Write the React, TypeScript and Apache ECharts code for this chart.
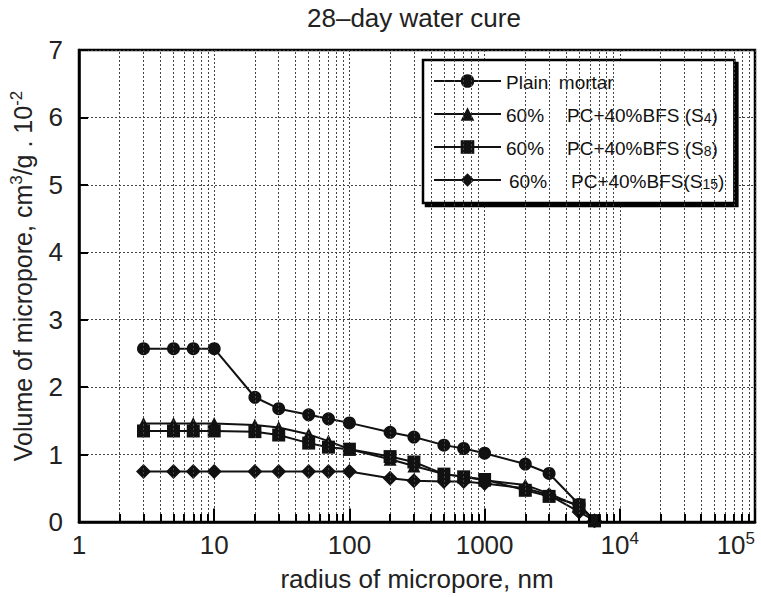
import React, { useEffect, useRef } from "react";
import * as echarts from "echarts";

// ---- data ----
const radius = [3, 5, 7, 10, 20, 30, 50, 70, 100, 200, 300, 500, 700, 1000, 2000, 3000, 5000, 6500];
const plainMortar = [2.57, 2.57, 2.57, 2.57, 1.85, 1.68, 1.59, 1.53, 1.47, 1.33, 1.26, 1.14, 1.09, 1.02, 0.86, 0.72, 0.26, 0.02];
const bfsS4 = [1.46, 1.46, 1.46, 1.46, 1.44, 1.4, 1.3, 1.2, 1.08, 0.93, 0.83, 0.71, 0.67, 0.62, 0.55, 0.42, 0.23, 0.02];
const bfsS8 = [1.35, 1.35, 1.35, 1.35, 1.34, 1.29, 1.17, 1.11, 1.08, 0.97, 0.89, 0.71, 0.67, 0.63, 0.47, 0.38, 0.25, 0.02];
const bfsS15 = [0.75, 0.75, 0.75, 0.75, 0.75, 0.75, 0.75, 0.75, 0.75, 0.65, 0.61, 0.6, 0.6, 0.57, 0.5, 0.4, 0.15, 0.02];

const seriesNames = ["Plain mortar", "S4", "S8", "S15"];
const legendLabels = [
  "{t|Plain  mortar}",
  "{p|60%}{t|PC+40%BFS (S}{sub|4}{t|)}",
  "{p|60%}{t|PC+40%BFS (S}{sub|8}{t|)}",
  "{q|60%}{t|PC+40%BFS(S}{sub|15}{t|)}",
];
const xTickLabels = ["1", "10", "100", "1000", "10{sup|4}", "10{sup|5}"];
const yMin = 0;
const yMax = 7;
const xMin = 1;
const xMax = 100000;
const decades = [1, 10, 100, 1000, 10000];
const multipliers = [2, 3, 4, 5, 6, 7, 8, 9];

const FONT = "'Liberation Sans', Arial, Helvetica, sans-serif";
const INK = "#111";

export default function App() {
  const ref = useRef<HTMLDivElement>(null);
  useEffect(() => {
    if (!ref.current) return;
    const chart = echarts.init(ref.current, undefined, { renderer: "svg" });

    const minorValues: number[] = [];
    decades.forEach((d) => multipliers.forEach((m) => minorValues.push(m * d)));
    const majorInner = decades.slice(1);

    const gridLineStyle = { type: [2, 2] as any, color: "#444", width: 1 };

    const markerTypes = ["circle", "triangle", "rect", "diamond"];
    const markerSizes = [13, 13, 13, 15];
    const values = [plainMortar, bfsS4, bfsS8, bfsS15];

    const dataSeries = values.map((vals, i) => ({
      name: seriesNames[i],
      type: "line",
      data: radius.map((r, j) => [r, vals[j]]),
      symbol: markerTypes[i],
      symbolSize: markerSizes[i],
      lineStyle: { color: INK, width: 2 },
      itemStyle: { color: INK },
      z: 3,
    }));

    const option: any = {
      animation: false,
      backgroundColor: "#fff",
      title: {
        text: "28–day water cure",
        left: 302,
        top: 0,
        textStyle: { fontFamily: FONT, fontSize: 26, fontWeight: "normal", color: "#222" },
      },
      legend: {
        data: seriesNames,
        orient: "vertical",
        left: 423,
        top: 60,
        itemWidth: 67,
        itemHeight: 17,
        itemGap: 14,
        padding: [13, 10, 12, 10],
        backgroundColor: "#fff",
        borderColor: "#000",
        borderWidth: 2.5,
        shadowColor: "#000",
        shadowBlur: 0,
        shadowOffsetX: 3,
        shadowOffsetY: 3,
        selectedMode: false,
        formatter: (name: string) => legendLabels[seriesNames.indexOf(name)],
        textStyle: {
          fontFamily: FONT,
          fontSize: 19,
          color: INK,
          rich: {
            t: { fontFamily: FONT, fontSize: 19, color: INK, lineHeight: 22, verticalAlign: "bottom" },
            p: { fontFamily: FONT, fontSize: 19, color: INK, lineHeight: 22, width: 61, verticalAlign: "bottom" },
            q: { fontFamily: FONT, fontSize: 19, color: INK, lineHeight: 22, width: 62, padding: [0, 0, 0, 3], verticalAlign: "bottom" },
            sub: { fontFamily: FONT, fontSize: 14, color: INK, lineHeight: 11, verticalAlign: "bottom" },
          },
        },
      },
      grid: {
        left: 79,
        right: 6,
        top: 50,
        bottom: 75,
        show: true,
        borderColor: "#000",
        borderWidth: 2.5,
        backgroundColor: "#fff",
        containLabel: false,
        outerBoundsMode: "none",
      },
      xAxis: {
        type: "log",
        logBase: 10,
        min: xMin,
        max: xMax,
        name: "radius of micropore, nm",
        nameLocation: "middle",
        nameGap: 44,
        nameTextStyle: { fontFamily: FONT, fontSize: 26, color: "#222" },
        axisLine: { show: true, lineStyle: { color: "#000", width: 2.5 } },
        axisTick: { show: true, inside: true, length: 12, lineStyle: { color: "#000", width: 2 } },
        splitLine: { show: true, lineStyle: gridLineStyle },
        axisLabel: {
          margin: 8,
          showMinLabel: true,
          showMaxLabel: true,
          alignMaxLabel: "right",
          fontFamily: FONT,
          fontSize: 26,
          color: "#222",
          lineHeight: 30,
          formatter: (v: number) => xTickLabels[Math.round(Math.log10(v))],
          rich: {
            sup: { fontFamily: FONT, fontSize: 17, color: "#222", lineHeight: 16, verticalAlign: "top" },
          },
        },
      },
      yAxis: {
        type: "value",
        min: yMin,
        max: yMax,
        interval: 1,
        name: "Volume of micropore, cm{sup|3}/g . 10{sup|-2}",
        nameLocation: "middle",
        nameRotate: 90,
        nameGap: 42,
        nameTextStyle: {
          fontFamily: FONT,
          fontSize: 25,
          color: "#222",
          lineHeight: 29,
          padding: [0, 0, 0, 20],
          rich: {
            sup: { fontFamily: FONT, fontSize: 17, color: "#222", lineHeight: 15, verticalAlign: "top" },
          },
        },
        axisLine: { show: true, lineStyle: { color: "#000", width: 2.5 } },
        axisTick: { show: true, inside: true, length: 9, lineStyle: { color: "#000", width: 2 } },
        splitLine: { show: true, lineStyle: gridLineStyle },
        axisLabel: { margin: 16, fontFamily: FONT, fontSize: 26, color: "#222" },
      },
      series: [
        {
          name: "_grid",
          type: "line",
          data: [],
          silent: true,
          z: 1,
          markLine: {
            silent: true,
            symbol: ["none", "none"],
            label: { show: false },
            lineStyle: gridLineStyle,
            data: minorValues.map((v) => ({ xAxis: v })),
          },
        },
        {
          name: "_ticks",
          type: "line",
          data: [],
          silent: true,
          z: 2,
          markLine: {
            silent: true,
            symbol: ["none", "none"],
            label: { show: false },
            lineStyle: { type: "solid", color: "#000", width: 2 },
            data: [
              ...minorValues.map((v) => [{ coord: [v, yMin] }, { coord: [v, 0.12] }]),
              ...majorInner.map((v) => [{ coord: [v, yMin] }, { coord: [v, 0.2] }]),
            ],
          },
        },
        ...dataSeries,
      ],
    };
    chart.setOption(option);
    return () => chart.dispose();
  }, []);
  return <div ref={ref} style={{ width: 761, height: 597, position: "absolute", left: 0, top: 0 }} />;
}
